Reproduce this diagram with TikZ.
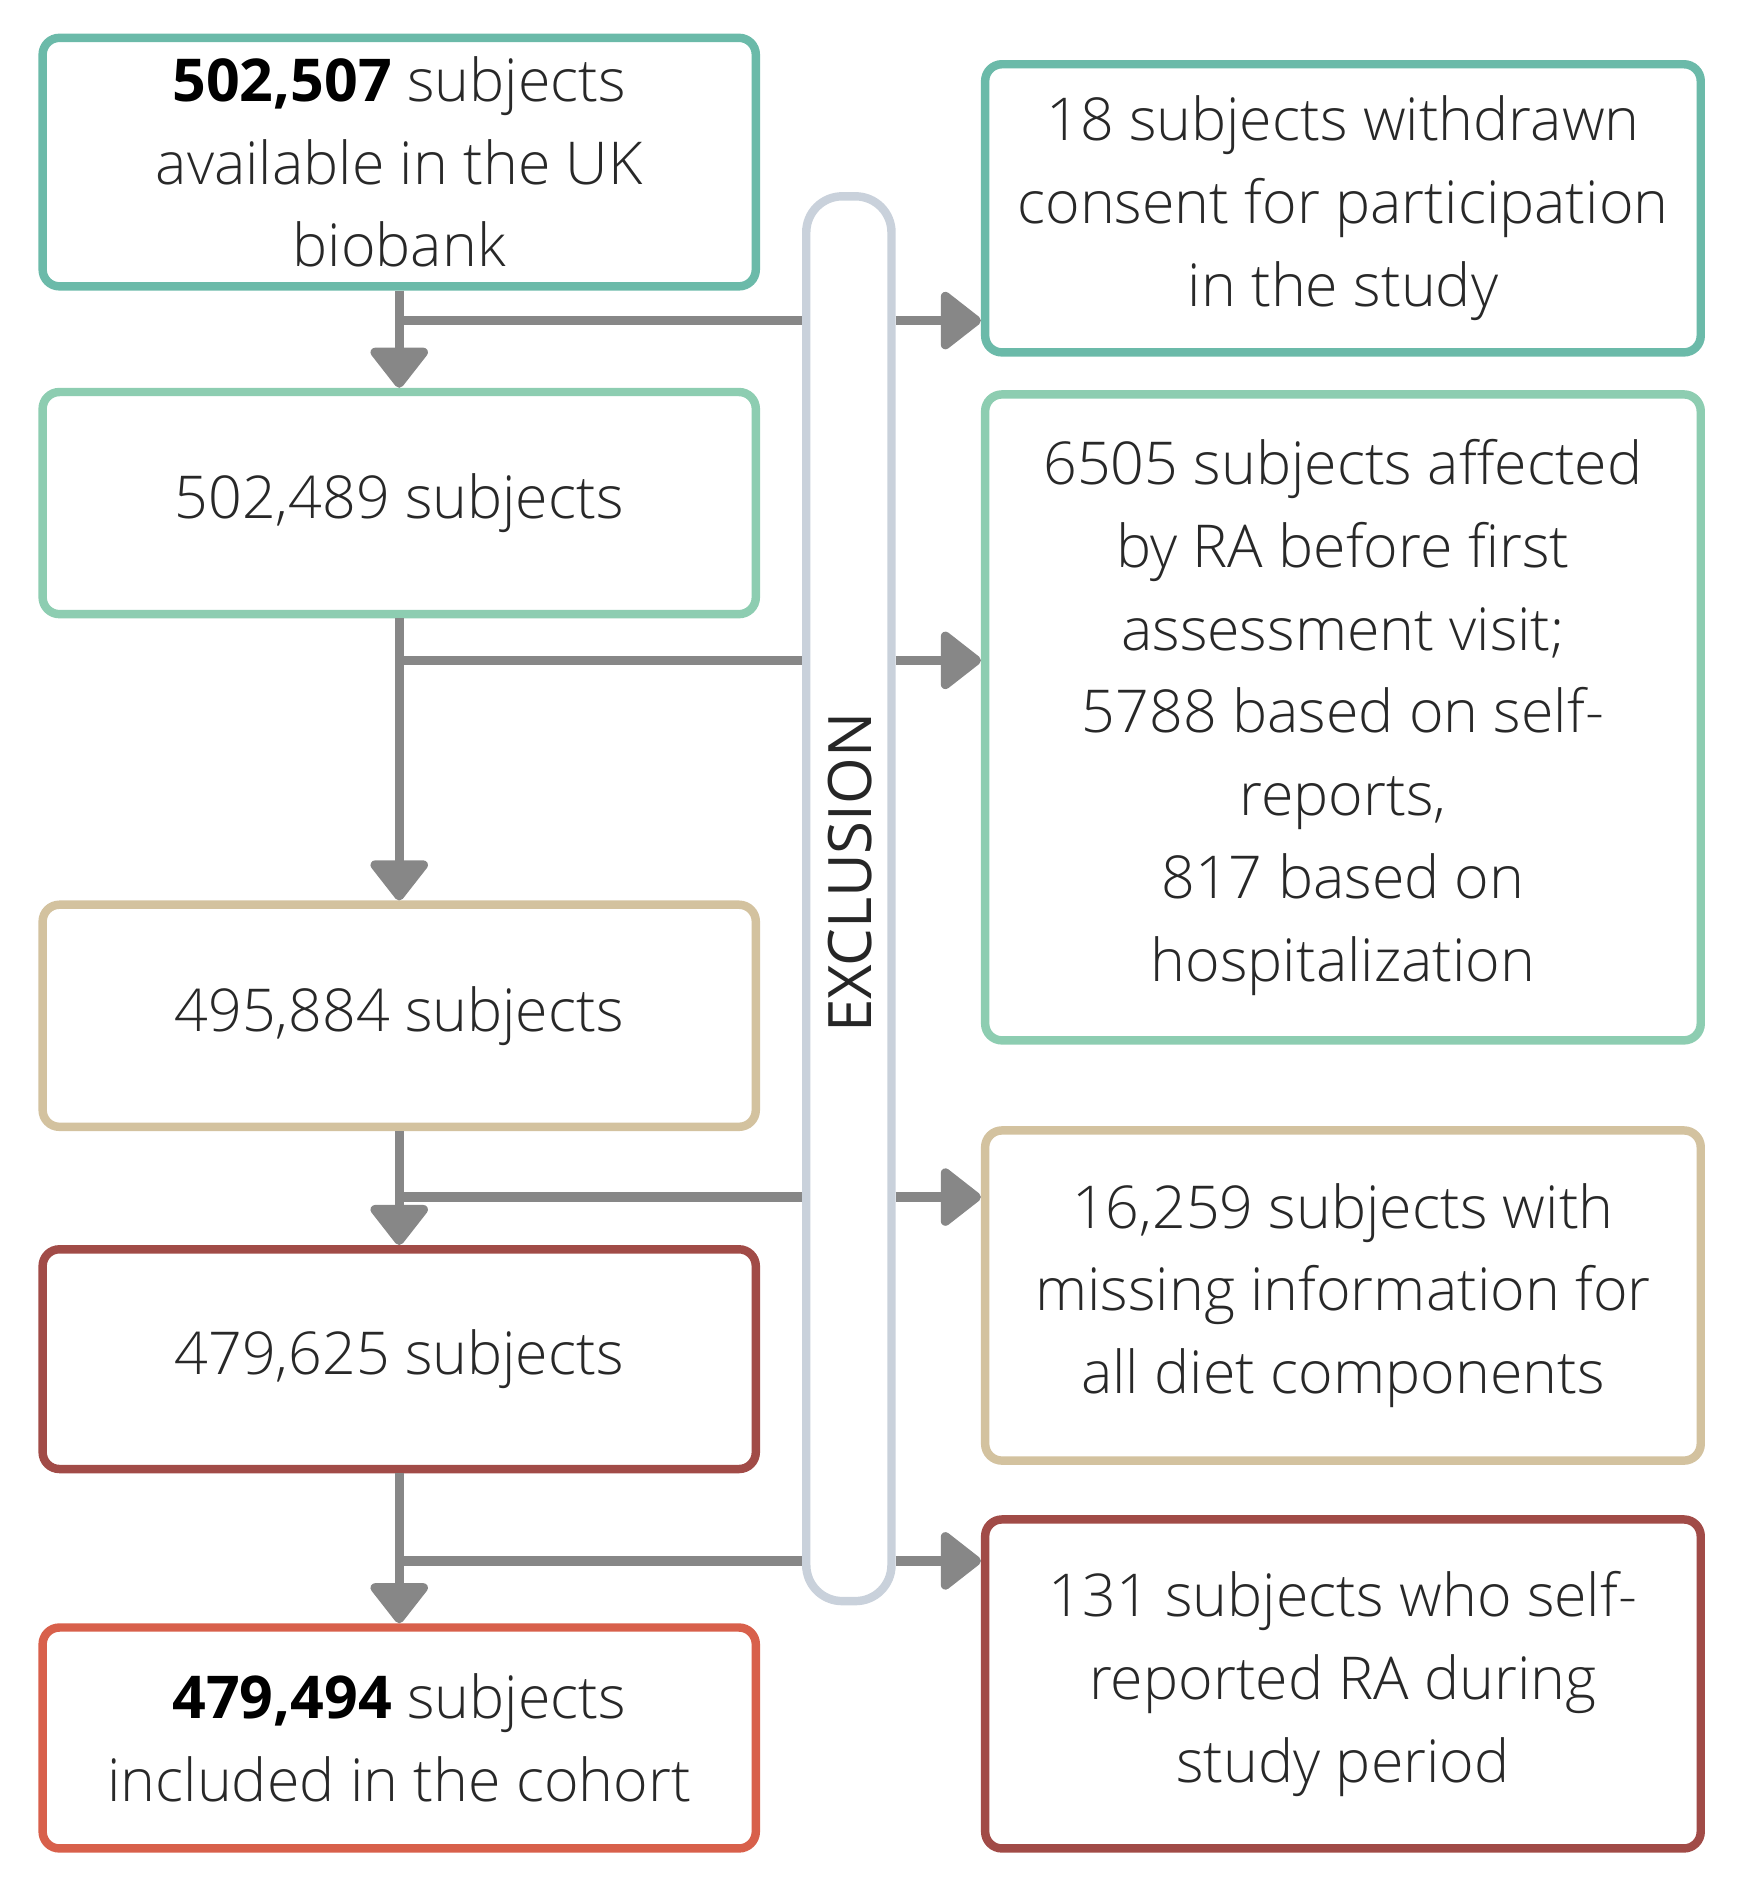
\documentclass[tikz,border=0pt]{standalone}
\usepackage{fontspec}
\setmainfont{Open Sans}[UprightFont={* Light}, BoldFont={* Bold}]
\newfontfamily\exclfont{Open Sans}
\usepackage{tikz}
\usetikzlibrary{arrows.meta}
\definecolor{teal1}{RGB}{107,186,169}
\definecolor{mint1}{RGB}{141,205,177}
\definecolor{tan1}{RGB}{211,194,159}
\definecolor{red1}{RGB}{161,75,71}
\definecolor{orange1}{RGB}{216,96,75}
\definecolor{bargray}{RGB}{201,209,219}
\definecolor{arrgray}{RGB}{135,135,135}
\definecolor{txtgray}{RGB}{40,40,40}
\tikzset{>={Triangle[width=0.54cm,length=0.36cm,round]}}

\begin{document}
\begin{tikzpicture}[
box/.style={draw, line width=2pt, rounded corners=0.14cm, fill=white,
  minimum width=5.94cm, align=center, text=txtgray, inner sep=0pt,
  font=\fontsize{14}{19.6}\selectfont},
flow/.style={draw, arrgray, line width=2.2pt}
]
\useasboundingbox (0,0) rectangle (14.5,-15.633);
% exclusion bar
\node[draw=bargray, line width=2pt, rounded corners=0.3cm, fill=white,
  minimum width=0.71cm, minimum height=11.7cm, inner sep=0pt] (excl) at (7.07,-7.485) {};
\node[rotate=90, text=black!85, font=\exclfont\fontsize{14.2}{16}\selectfont] at (7.08,-7.27) {EXCLUSION};
% left column
\node[box, draw=teal1, minimum height=2.07cm] (b1) at (3.325,-1.35)
  {{\color{black}\bfseries 502,507} subjects\\available in the UK\\biobank};
\node[box, draw=mint1, minimum height=1.85cm] (b2) at (3.325,-4.19) {502,489 subjects};
\node[box, draw=tan1, minimum height=1.85cm] (b3) at (3.325,-8.46) {495,884 subjects};
\node[box, draw=red1, minimum height=1.83cm] (b4) at (3.325,-11.32) {479,625 subjects};
\node[box, draw=orange1, minimum height=1.84cm] (b5) at (3.325,-14.475)
  {{\color{black}\bfseries 479,494} subjects\\included in the cohort};
% right column
\node[box, draw=teal1, minimum width=5.96cm, minimum height=2.40cm] (r1) at (11.185,-1.735)
  {18 subjects withdrawn\\consent for participation\\in the study};
\node[box, draw=mint1, minimum width=5.96cm, minimum height=5.38cm] (r2) at (11.185,-5.975)
  {6505 subjects affected\\by RA before first\\assessment visit;\\5788 based on self-\\reports,\\817 based on\\hospitalization};
\node[box, draw=tan1, minimum width=5.96cm, minimum height=2.75cm] (r3) at (11.185,-10.79)
  {16,259 subjects with\\missing information for\\all diet components};
\node[box, draw=red1, minimum width=5.96cm, minimum height=2.74cm] (r4) at (11.185,-14.025)
  {131 subjects who self-\\reported RA during\\study period};
% junctions
\coordinate (j1) at (0,-2.67);
\coordinate (j2) at (0,-5.50);
\coordinate (j3) at (0,-9.97);
\coordinate (j4) at (0,-13.0);
\path[flow]
(b1.south |- j1) edge (excl.west |- j1)
(b2.south |- j2) edge (excl.west |- j2)
(b3.south |- j3) edge (excl.west |- j3)
(b4.south |- j4) edge (excl.west |- j4);
\path[flow]
(b1) edge[->] (b2)
(b2) edge[->] (b3)
(b3) edge[->] (b4)
(b4) edge[->] (b5)
(excl.east |- j1) edge[->] (r1.west |- j1)
(excl.east |- j2) edge[->] (r2.west |- j2)
(excl.east |- j3) edge[->] (r3.west |- j3)
(excl.east |- j4) edge[->] (r4.west |- j4);
\end{tikzpicture}
\end{document}
